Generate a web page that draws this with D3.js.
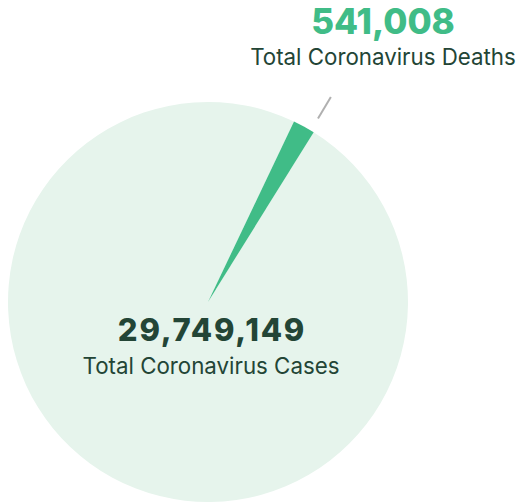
<!DOCTYPE html>
<html lang="en">
<head>
<meta charset="UTF-8">
<title>Coronavirus Cases and Deaths</title>
<script src="https://d3js.org/d3.v7.min.js"></script>
<style>
  body { margin: 0; background: #fff; font-family: Inter, "Noto Sans", Arial, sans-serif; }
  svg { display: block; }
</style>
</head>
<body>
<div id="chart"></div>
<script>
  const labels = ["Total Coronavirus Cases", "Total Coronavirus Deaths"];
  const values = [29749149, 541008];
  const colors = ["#e6f4ec", "#40bc87"];

  const width = 519, height = 504;
  const cx = 208, cy = 302, radius = 200;
  const startDeg = 31.9;

  const svg = d3.select("#chart").append("svg")
    .attr("width", width)
    .attr("height", height);

  const pie = d3.pie().sort(null)
    .startAngle(startDeg * Math.PI / 180)
    .endAngle((startDeg + 360) * Math.PI / 180);
  const arcs = pie(values);
  const arc = d3.arc().innerRadius(0).outerRadius(radius);

  const g = svg.append("g").attr("transform", `translate(${cx},${cy})`);
  g.selectAll("path")
    .data(arcs)
    .enter()
    .append("path")
    .attr("d", arc)
    .attr("fill", (d, i) => colors[i]);

  // leader line for the deaths slice
  const death = arcs[1];
  const a = death.startAngle + (death.endAngle - death.startAngle) * 0.85;
  const r0 = radius + 14, r1 = radius + 39;
  g.append("line")
    .attr("x1", Math.sin(a) * r0).attr("y1", -Math.cos(a) * r0)
    .attr("x2", Math.sin(a) * r1).attr("y2", -Math.cos(a) * r1)
    .attr("stroke", "#b0b0b0")
    .attr("stroke-width", 2);

  const fmt = d3.format(",");

  // deaths label
  svg.append("text")
    .attr("x", 383).attr("y", 34)
    .attr("text-anchor", "middle")
    .style("font-size", "35px").style("font-weight", 800)
    .attr("fill", colors[1])
    .text(fmt(values[1]));
  svg.append("text")
    .attr("x", 383).attr("y", 65)
    .attr("text-anchor", "middle")
    .style("font-size", "22.3px").style("font-weight", 400)
    .attr("fill", "#234536")
    .text(labels[1]);

  // cases label
  svg.append("text")
    .attr("x", 212).attr("y", 341)
    .attr("text-anchor", "middle")
    .style("font-size", "31px").style("font-weight", 800)
    .style("letter-spacing", "1.8px")
    .attr("fill", "#234536")
    .text(fmt(values[0]));
  svg.append("text")
    .attr("x", 211).attr("y", 374)
    .attr("text-anchor", "middle")
    .style("font-size", "22.3px").style("font-weight", 400)
    .attr("fill", "#234536")
    .text(labels[0]);
</script>
</body>
</html>
